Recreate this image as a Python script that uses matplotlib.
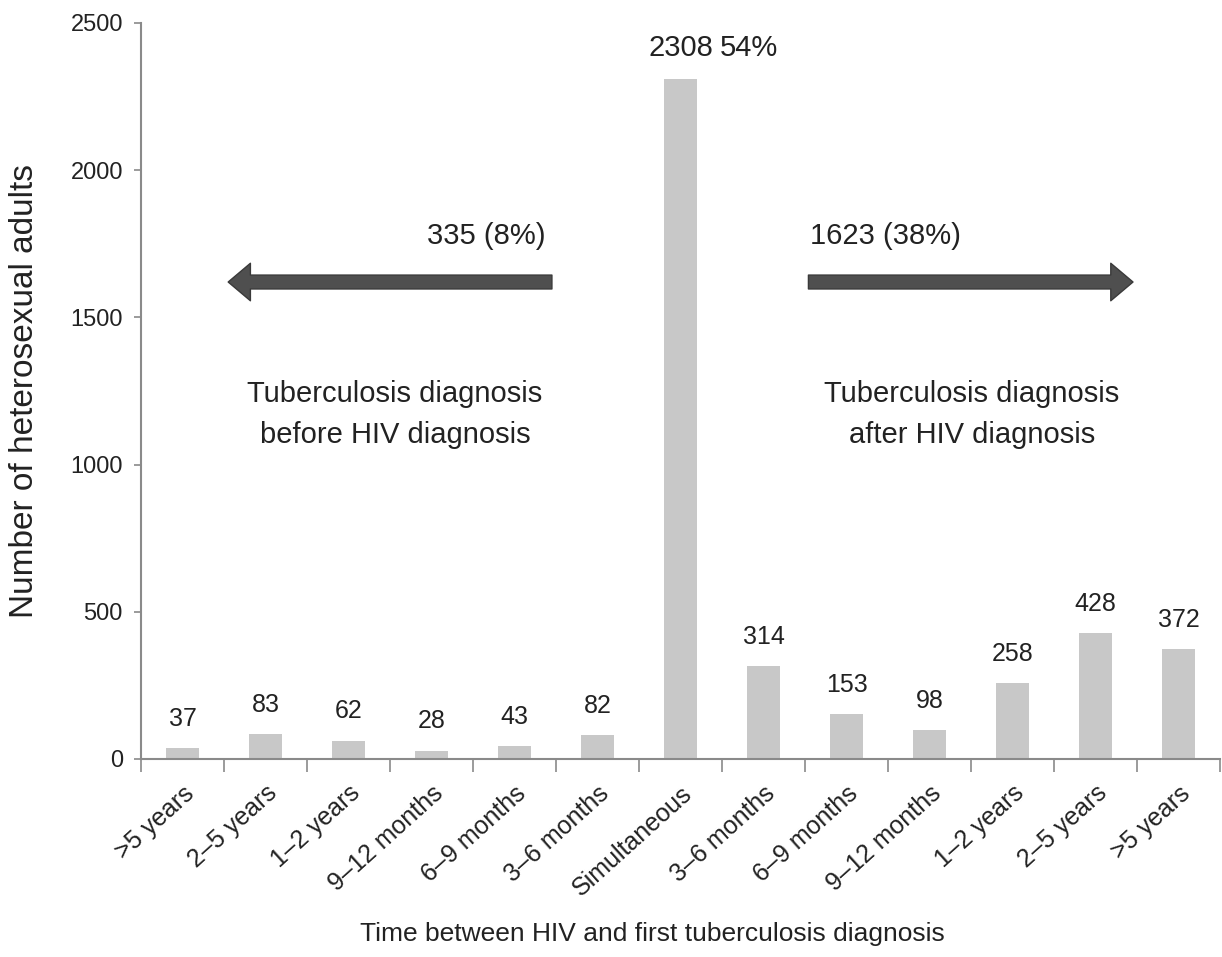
import matplotlib
matplotlib.use("Agg")
import matplotlib.pyplot as plt

plt.rcParams['font.family'] = ['Liberation Sans', 'DejaVu Sans']

# time between HIV and first TB diagnosis (before -> simultaneous -> after)
categories = [">5 years", "2\u20135 years", "1\u20132 years", "9\u201312 months",
              "6\u20139 months", "3\u20136 months", "Simultaneous",
              "3\u20136 months", "6\u20139 months", "9\u201312 months",
              "1\u20132 years", "2\u20135 years", ">5 years"]
counts = [37, 83, 62, 28, 43, 82, 2308, 314, 153, 98, 258, 428, 372]
yticks = [0, 500, 1000, 1500, 2000, 2500]

before = sum(counts[:6])
simult = counts[6]
after = sum(counts[7:])
total = before + simult + after

bar_color = "#c8c8c8"
axis_color = "#8a8a8a"
text_color = "#222222"
arrow_color = "#4f4f4f"

fig = plt.figure(figsize=(12.22, 9.57), dpi=100)
ax = fig.add_axes([0.1154, 0.207, 0.8831, 0.769])

x = list(range(len(categories)))
ax.bar(x, counts, width=0.39, color=bar_color, edgecolor="none")

for i, v in enumerate(counts):
    if i == 6:
        continue
    ax.annotate(str(v), (i, v), xytext=(0, 21), textcoords="offset points",
                ha="center", va="center", fontsize=18, color=text_color)

# big middle bar: count plus share of total
t = ax.annotate(str(simult), (6, simult), xytext=(0, 23), textcoords="offset points",
                ha="center", va="center", fontsize=21, color=text_color)
ax.annotate("%d%%" % round(100 * simult / total), xy=(1, 0.5), xycoords=t,
            xytext=(5, 0), textcoords="offset points",
            ha="left", va="center", fontsize=21, color=text_color)

# direction arrows with group totals
arrow_style = "simple,head_length=0.8,head_width=1.35,tail_width=0.5"
ax.annotate("", xy=(0.55, 1620), xytext=(4.45, 1620),
            arrowprops=dict(arrowstyle=arrow_style, fc=arrow_color, ec="#3a3a3a",
                            lw=1, mutation_scale=20, shrinkA=0, shrinkB=0))
ax.annotate("", xy=(11.45, 1620), xytext=(7.54, 1620),
            arrowprops=dict(arrowstyle=arrow_style, fc=arrow_color, ec="#3a3a3a",
                            lw=1, mutation_scale=20, shrinkA=0, shrinkB=0))

ax.text(4.37, 1775, "%d (%d%%)" % (before, round(100 * before / total)),
        ha="right", va="center", fontsize=21, color=text_color)
ax.text(7.56, 1775, "%d (%d%%)" % (after, round(100 * after / total)),
        ha="left", va="center", fontsize=21, color=text_color)

ax.text(2.56, 1170, "Tuberculosis diagnosis\nbefore HIV diagnosis",
        ha="center", va="center", fontsize=21, color=text_color, linespacing=1.55)
ax.text(9.51, 1170, "Tuberculosis diagnosis\nafter HIV diagnosis",
        ha="center", va="center", fontsize=21, color=text_color, linespacing=1.55)

ax.set_xlim(-0.5, len(categories) - 0.5)
ax.set_ylim(0, 2500)
ax.set_yticks(yticks)
ax.tick_params(axis="y", labelsize=17, colors=axis_color, labelcolor=text_color,
               length=5, width=1.2, pad=8)

# category labels centred under bars, ticks on category boundaries
ax.set_xticks(x)
ax.set_xticklabels(categories, rotation=42, ha="right", rotation_mode="anchor",
                   fontsize=18, color=text_color)
ax.tick_params(axis="x", which="major", length=0, pad=16)
ax.set_xticks([i - 0.5 for i in range(len(categories) + 1)], minor=True)
ax.tick_params(axis="x", which="minor", length=9, width=1.2, colors=axis_color)

for s in ["top", "right"]:
    ax.spines[s].set_visible(False)
for s in ["left", "bottom"]:
    ax.spines[s].set_color(axis_color)
    ax.spines[s].set_linewidth(1.5)

ax.set_ylabel("Number of heterosexual adults", fontsize=24, color=text_color)
ax.yaxis.set_label_coords(-0.094, 0.5)
ax.set_xlabel("Time between HIV and first tuberculosis diagnosis",
              fontsize=19, color=text_color)
ax.xaxis.set_label_coords(0.474, -0.222)

fig.savefig("out.png", dpi=100)
